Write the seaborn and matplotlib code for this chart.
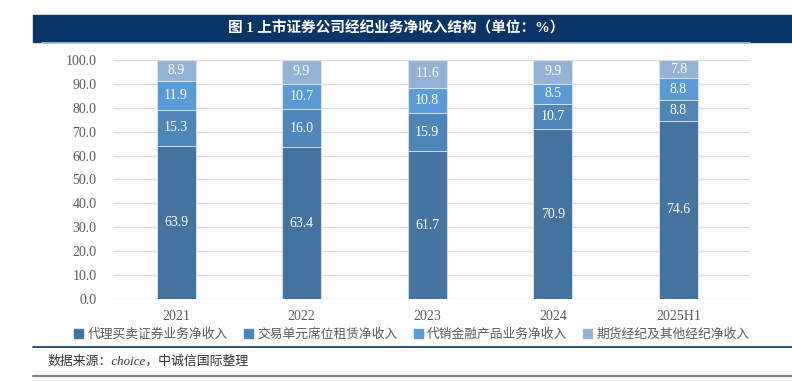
import numpy as np
import pandas as pd
import seaborn as sns
import matplotlib.pyplot as plt
from matplotlib.patches import Rectangle
from matplotlib.lines import Line2D

# datos del grafico
years = ['2021', '2022', '2023', '2024', '2025H1']
series_names = ['代理买卖证券业务净收入', '交易单元席位租赁净收入',
                '代销金融产品业务净收入', '期货经纪及其他经纪净收入']
agency = [63.9, 63.4, 61.7, 70.9, 74.6]
seat_rental = [15.3, 16.0, 15.9, 10.7, 8.8]
fin_products = [11.9, 10.7, 10.8, 8.5, 8.8]
futures_other = [8.9, 9.9, 11.6, 9.9, 7.8]
yticks = np.arange(0, 101, 10)

colors = ['#44739f', '#4f86b9', '#5b9bd5', '#95b3d7']
grey = '#595959'

sns.set_theme(style='white')
plt.rcParams['font.family'] = ['Liberation Serif', 'Noto Sans CJK SC']

fig = plt.figure(figsize=(7.92, 3.81), dpi=100)
ax = fig.add_axes([0.143, 0.215, 0.804, 0.628])

values = [agency, seat_rental, fin_products, futures_other]
bottom = np.zeros(len(years))
for name, vals, col in zip(series_names, values, colors):
    df = pd.DataFrame({'year': years, 'val': vals})
    sns.barplot(data=df, x='year', y='val', color=col, width=0.31,
                bottom=bottom, ax=ax, edgecolor='#dce6f0', linewidth=0.6,
                saturation=1, zorder=3)
    for i, v in enumerate(vals):
        ax.text(i, bottom[i] + v / 2, f'{v:.1f}', ha='center', va='center',
                color='white', fontsize=10, zorder=4)
    bottom = bottom + np.array(vals)

ax.set_ylim(0, 100)
ax.set_xlim(-0.5, 4.57)
ax.set_yticks(yticks)
ax.set_yticklabels([f'{t:.1f}' for t in yticks])
ax.grid(axis='y', color='#d9d9d9', linewidth=0.9, zorder=0)
ax.set_xlabel('')
ax.set_ylabel('')
for s in ax.spines.values():
    s.set_visible(False)
ax.tick_params(axis='both', length=0, labelsize=10, labelcolor=grey)
ax.tick_params(axis='x', pad=8)
ax.tick_params(axis='y', pad=12)

# leyenda
handles = [Rectangle((0, 0), 1, 1, color=c) for c in colors]
fig.legend(handles, series_names, loc='center', bbox_to_anchor=(0.52, 0.122),
           ncol=4, frameon=False, labelcolor=grey,
           handlelength=0.7, handleheight=0.7, handletextpad=0.3,
           columnspacing=1.3, prop={'family': ['Noto Sans CJK SC'], 'size': 9.2})

# banda de titulo
fig.patches.append(Rectangle((33 / 792, 1 - 42 / 381), 1 - 33 / 792, 27 / 381,
                             transform=fig.transFigure, color='#0b3565', zorder=0))
fig.lines.append(Line2D([42 / 792, 750 / 792], [1 - 43 / 381] * 2,
                        transform=fig.transFigure, color='#b7c9df', lw=1.2))
fig.text(0.5, 1 - 28.5 / 381, '图 1 上市证券公司经纪业务净收入结构（单位：%）',
         ha='center', va='center', color='white', fontsize=10.5, fontweight='bold')

fig.lines.append(Line2D([33 / 792, 1], [1 - 347 / 381] * 2,
                        transform=fig.transFigure, color='#0b3565', lw=1.2))
fig.text(47 / 792, 1 - 361 / 381, '数据来源：choice，中诚信国际整理', ha='left',
         va='center', color='#333333', fontsize=9.3, style='italic')
fig.lines.append(Line2D([33 / 792, 1], [1 - 376 / 381] * 2,
                        transform=fig.transFigure, color='#7f7f7f', lw=1.5))

fig.savefig('out.png', dpi=100)
